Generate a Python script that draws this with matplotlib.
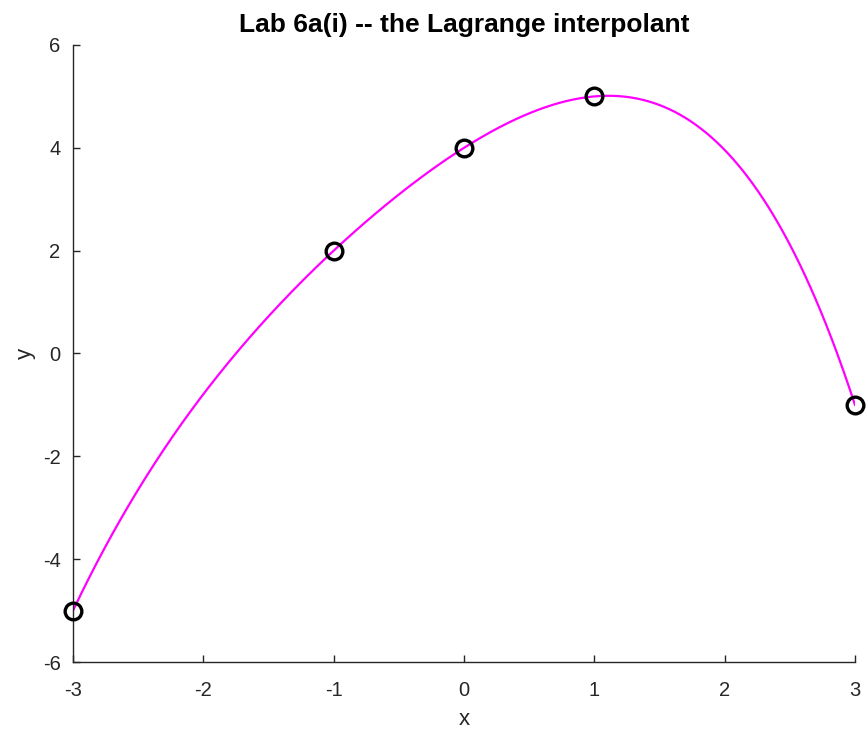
import numpy as np
import matplotlib
matplotlib.use('Agg')
import matplotlib.pyplot as plt

# interpolation nodes
x_nodes = [-3, -1, 0, 1, 3]
y_nodes = [-5, 2, 4, 5, -1]

x_ticks = [-3, -2, -1, 0, 1, 2, 3]
y_ticks = [-6, -4, -2, 0, 2, 4, 6]


def lagrange(xn, yn, xs):
    # evaluate the Lagrange interpolating polynomial at xs
    out = np.zeros_like(xs, dtype=float)
    for i in range(len(xn)):
        term = np.full_like(xs, yn[i], dtype=float)
        for j in range(len(xn)):
            if j != i:
                term *= (xs - xn[j]) / (xn[i] - xn[j])
        out += term
    return out


plt.rcParams['font.family'] = ['Liberation Sans', 'DejaVu Sans']
plt.rcParams['axes.unicode_minus'] = False

fig = plt.figure(figsize=(8.66, 7.4), dpi=100)
ax = fig.add_axes([0.0843, 0.1054, 0.903, 0.8338])

xs = np.linspace(-3, 3, 600)
ax.plot(xs, lagrange(x_nodes, y_nodes, xs), color='#ff00ff', lw=1.6, zorder=2)
ax.plot(x_nodes, y_nodes, 'o', ms=12, mfc='none', mec='black', mew=2.4,
        zorder=3, clip_on=False)

ax.set_xlim(-3, 3)
ax.set_ylim(-6, 6)
ax.set_xticks(x_ticks)
ax.set_yticks(y_ticks)

for side in ['top', 'right']:
    ax.spines[side].set_visible(False)
for side in ['left', 'bottom']:
    ax.spines[side].set_color('#262626')
    ax.spines[side].set_linewidth(1.0)

ax.tick_params(direction='in', length=5, width=1.0, colors='#262626',
               labelsize=14.5)
ax.tick_params(axis='x', pad=14)
ax.tick_params(axis='y', pad=9)

ax.set_xlabel('x', fontsize=16, color='#262626', labelpad=6)
ax.set_ylabel('y', fontsize=16, color='#262626', labelpad=5)
ax.set_title('Lab 6a(i) -- the Lagrange interpolant', fontsize=19,
             fontweight='bold', color='black', pad=9)

fig.savefig('out.png', dpi=100)
